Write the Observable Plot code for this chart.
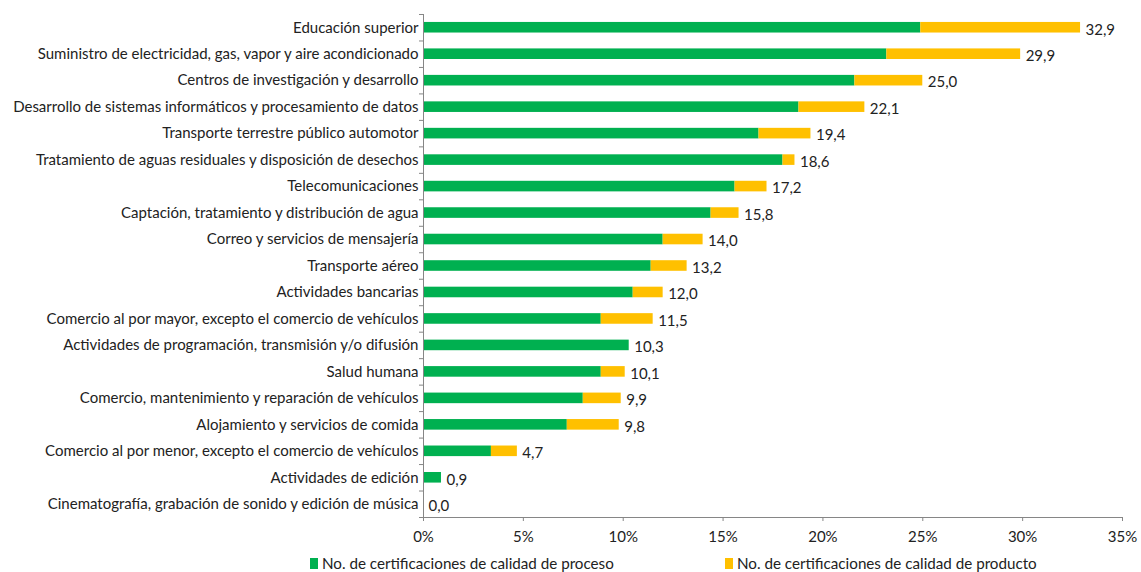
<!DOCTYPE html>
<html>
<head>
<meta charset="utf-8">
<script src="https://cdn.jsdelivr.net/npm/d3@7"></script>
<script src="https://cdn.jsdelivr.net/npm/@observablehq/plot@0.6"></script>
<style>
  html, body { margin: 0; padding: 0; background: #fff; }
  #wrap { position: relative; width: 1141px; height: 572px; font-family: Lato, sans-serif; color: #222; }
  .leg { position: absolute; top: 554px; font-size: 15.2px; white-space: nowrap; display: flex; align-items: center; }
  .sw { display: inline-block; width: 8px; height: 11px; margin-right: 4px; }
  svg { display: block; }
</style>
</head>
<body>
<div id="wrap"></div>
<script>
const categories = [
  "Educación superior",
  "Suministro de electricidad, gas, vapor y aire acondicionado",
  "Centros de investigación y desarrollo",
  "Desarrollo de sistemas informáticos y procesamiento de datos",
  "Transporte terrestre público automotor",
  "Tratamiento de aguas residuales y disposición de desechos",
  "Telecomunicaciones",
  "Captación, tratamiento y distribución de agua",
  "Correo y servicios de mensajería",
  "Transporte aéreo",
  "Actividades bancarias",
  "Comercio al por mayor, excepto el comercio de vehículos",
  "Actividades de programación, transmisión y/o difusión",
  "Salud humana",
  "Comercio, mantenimiento y reparación de vehículos",
  "Alojamiento y servicios de comida",
  "Comercio al por menor, excepto el comercio de vehículos",
  "Actividades de edición",
  "Cinematografía, grabación de sonido y edición de música"
];
const proceso  = [24.9, 23.2, 21.6, 18.8, 16.8, 18.0, 15.6, 14.4, 12.0, 11.4, 10.5, 8.9, 10.3, 8.9, 8.0, 7.2, 3.4, 0.9, 0.0];
const producto = [8.0, 6.7, 3.4, 3.3, 2.6, 0.6, 1.6, 1.4, 2.0, 1.8, 1.5, 2.6, 0.0, 1.2, 1.9, 2.6, 1.3, 0.0, 0.0];
const totales  = [32.9, 29.9, 25.0, 22.1, 19.4, 18.6, 17.2, 15.8, 14.0, 13.2, 12.0, 11.5, 10.3, 10.1, 9.9, 9.8, 4.7, 0.9, 0.0];
const seriesNames = ["No. de certificaciones de calidad de proceso", "No. de certificaciones de calidad de producto"];
const seriesColors = ["#00B050", "#FFC000"];
const xTicks = [0, 5, 10, 15, 20, 25, 30, 35];

const rows = [];
categories.forEach((c, i) => {
  rows.push({cat: c, serie: seriesNames[0], value: proceso[i]});
  rows.push({cat: c, serie: seriesNames[1], value: producto[i]});
});
const labels = categories.map((c, i) => ({cat: c, total: totales[i]}));

const W = 1141, H = 550, mTop = 14, mBottom = 33;
const step = (H - mTop - mBottom) / categories.length;
const grey = "#868686";
const font = 'Lato, sans-serif';

const chart = Plot.plot({
  width: W, height: H,
  marginLeft: 423, marginRight: 19, marginTop: mTop, marginBottom: mBottom,
  style: {fontFamily: font, fontSize: "15px", color: "#222", background: "#fff"},
  x: {domain: [0, 35], ticks: xTicks},
  y: {domain: categories, paddingInner: 0.6, paddingOuter: 0.3, round: false},
  color: {domain: seriesNames, range: seriesColors},
  marks: [
    Plot.barX(rows, {x: "value", y: "cat", fill: "serie"}),
    Plot.ruleX([0], {stroke: grey}),
    Plot.ruleY([categories[categories.length - 1]], {y: d => d, x1: 0, x2: 35, dy: step / 2, stroke: grey}),
    Plot.ruleY(categories, {y: d => d, x1: -0.2, x2: 0, dy: step / 2, stroke: grey}),
    Plot.ruleY([categories[0]], {y: d => d, x1: -0.2, x2: 0, dy: -step / 2, stroke: grey}),
    Plot.text(labels, {x: "total", y: "cat", text: d => d.total.toFixed(1).replace(".", ","), textAnchor: "start", dx: 5, dy: 2, fill: "#222", fontSize: 15}),
    Plot.axisY({tickSize: 0, tickPadding: 5, label: null, fontSize: 15}),
    Plot.axisX({ticks: xTicks, tickSize: 4, tickPadding: 10, tickFormat: d => d + "%", label: null, stroke: grey, fill: "#222", fontSize: 15})
  ]
});

const wrap = document.getElementById("wrap");
wrap.appendChild(chart);
const legPos = [310, 725];
seriesNames.forEach((n, i) => {
  const d = document.createElement("div");
  d.className = "leg";
  d.style.left = legPos[i] + "px";
  const sw = document.createElement("span");
  sw.className = "sw";
  sw.style.background = seriesColors[i];
  d.appendChild(sw);
  d.appendChild(document.createTextNode(n));
  wrap.appendChild(d);
});
</script>
</body>
</html>
